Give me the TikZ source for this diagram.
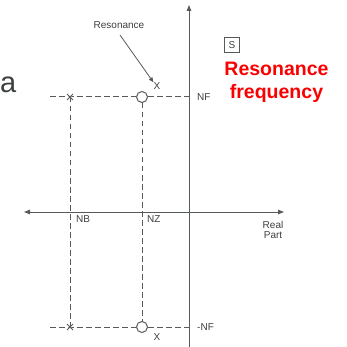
\documentclass[tikz,border=0pt]{standalone}
\usepackage{fontspec}
\setmainfont{Liberation Sans}
\usetikzlibrary{shapes.misc,arrows.meta}
\definecolor{ln}{RGB}{85,92,85}
\definecolor{tx}{RGB}{60,64,60}
\definecolor{rd}{RGB}{250,0,0}
\tikzset{
  axis/.style={draw=ln, line width=1pt},
  dsh/.style={draw=ln, line width=1pt, dash pattern=on 5.5pt off 3.5pt},
  lbl/.style={text=tx, font=\fontsize{10}{11}\selectfont, inner sep=0pt},
  pole/.style={draw=ln, line width=0.9pt, cross out, minimum size=5pt, inner sep=0pt},
  zero/.style={draw=ln, line width=1pt, circle, fill=white, minimum size=11pt, inner sep=0pt},
}
\begin{document}
\begin{tikzpicture}[x=1pt,y=-1pt]
\useasboundingbox (0,0) rectangle (347,347);
% axes
\coordinate (vtop) at (189,5);
\coordinate (vbot) at (189,347);
\coordinate (hl) at (24,212);
\coordinate (hr) at (284,212);
\draw[axis,-{Triangle[length=6pt,width=4.5pt]}] (vbot) -- (vtop);
\draw[axis,{Triangle[length=6pt,width=4.5pt]}-{Triangle[length=6pt,width=4.5pt]}] (hl) -- (hr);
% poles and zeros
\coordinate (nfl) at (50,97);
\coordinate (nfr) at (189,97);
\coordinate (mnfl) at (50,327);
\coordinate (mnfr) at (189,327);
\node[pole] (p1) at (70,97) {};
\node[pole] (p2) at (70,327) {};
\node[zero] (z1) at (142,97) {};
\node[zero] (z2) at (142,327) {};
\draw[dsh] (nfl) -- (p1.center) -- (z1);
\draw[dsh] (z1) -- (nfr);
\draw[dsh] (mnfl) -- (p2.center) -- (z2);
\draw[dsh] (z2) -- (mnfr);
\draw[dsh] (p1.center) -- (p2.center);
\draw[dsh] (z1) -- (z2);
% labels
\node[lbl] (xa) at (157,86) {X};
\node[lbl] (xb) at (157,337) {X};
\node[lbl] (res) at (119,25) {Resonance};
\draw[draw=ln, line width=0.8pt, -{Triangle[length=5pt,width=4pt]}] (120,35) -- (xa.north west);
\node[lbl, anchor=west] (nf) at (197,97) {NF};
\node[lbl, anchor=west] (mnf) at (197,327) {-NF};
\node[lbl, anchor=west] (nb) at (76,219) {NB};
\node[lbl, anchor=west] (nz) at (147,219) {NZ};
\node[lbl, align=center] (rp) at (273,230) {Real\\[-1pt]Part};
\node[lbl, draw=ln, line width=0.8pt, minimum size=15pt] (s) at (232,45) {S};
\node[text=tx, font=\fontsize{29}{30}\selectfont, inner sep=0pt, anchor=base west] (a) at (0,93) {a};
\node[text=rd, font=\bfseries\fontsize{19.5}{23}\selectfont, align=center, inner sep=0pt, anchor=base] (rf) at (276.5,99) {Resonance\\frequency};
\end{tikzpicture}
\end{document}
